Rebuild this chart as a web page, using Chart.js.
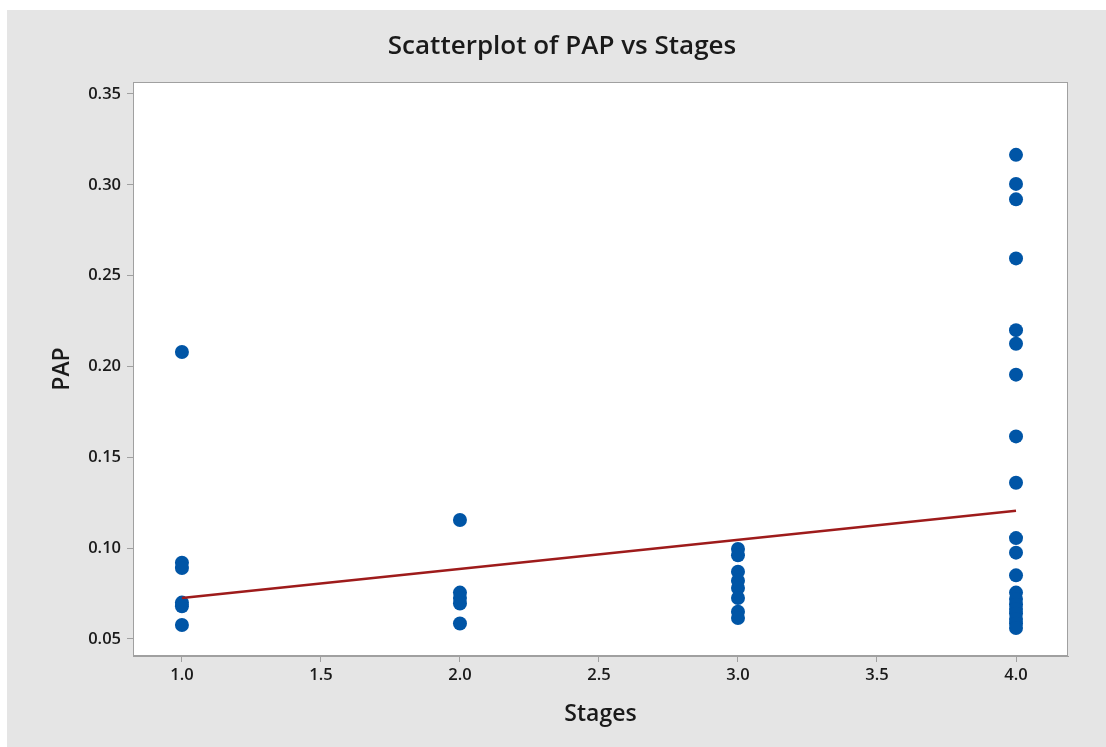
<!DOCTYPE html>
<html>
<head>
<meta charset="utf-8">
<script src="https://cdn.jsdelivr.net/npm/chart.js@4.4.0/dist/chart.umd.min.js"></script>
<style>
  html, body { margin: 0; padding: 0; background: #ffffff; }
  #wrap { position: absolute; left: 7px; top: 10px; width: 1099px; height: 737px; background: #e5e5e5; }
  canvas { display: block; }
</style>
</head>
<body>
<div id="wrap"><canvas id="scatterChart" width="1099" height="737"></canvas></div>
<script>
// PAP per stage
const stage1PAP = [0.208, 0.092, 0.089, 0.070, 0.068, 0.0577];
const stage2PAP = [0.1155, 0.0755, 0.0725, 0.0695, 0.0585];
const stage3PAP = [0.0995, 0.0960, 0.0870, 0.0820, 0.0780, 0.0725, 0.0650, 0.0615];
const stage4PAP = [0.3165, 0.3005, 0.2920, 0.2595, 0.2200, 0.2125, 0.1955, 0.1615, 0.1360,
                   0.1055, 0.0975, 0.0850, 0.0755, 0.0720, 0.0690, 0.0665, 0.0640, 0.0610,
                   0.0585, 0.0560];
const stages = [1, 2, 3, 4];

// garis regresi (ujung-ujung garis dari gambar)
const fitX = [1, 4];
const fitY = [0.0725, 0.1205];

const xTicks = [1.0, 1.5, 2.0, 2.5, 3.0, 3.5, 4.0];
const yTicks = [0.05, 0.10, 0.15, 0.20, 0.25, 0.30, 0.35];

const allStages = [stage1PAP, stage2PAP, stage3PAP, stage4PAP];
const scatterPoints = [];
allStages.forEach((vals, i) => {
  vals.forEach(v => scatterPoints.push({ x: stages[i], y: v }));
});
const fitPoints = fitX.map((x, i) => ({ x: x, y: fitY[i] }));

const fontFam = "'Open Sans', 'Noto Sans', sans-serif";
const axisGray = '#a0a0a0';
const textColor = '#1a1a1a';

// latar putih + bingkai area plot
const plotFrame = {
  id: 'plotFrame',
  beforeDraw(chart) {
    const { ctx, chartArea: a } = chart;
    ctx.save();
    ctx.fillStyle = '#ffffff';
    ctx.fillRect(a.left, a.top, a.right - a.left, a.bottom - a.top);
    ctx.restore();
  },
  afterDraw(chart) {
    const { ctx, chartArea: a } = chart;
    ctx.save();
    ctx.strokeStyle = axisGray;
    ctx.lineWidth = 1;
    ctx.strokeRect(a.left + 0.5, a.top + 0.5, a.right - a.left - 1, a.bottom - a.top - 1);
    ctx.restore();
  }
};

const ctx = document.getElementById('scatterChart').getContext('2d');
const chart = new Chart(ctx, {
  type: 'scatter',
  data: {
    datasets: [
      {
        label: 'Fit',
        type: 'line',
        data: fitPoints,
        borderColor: '#9e1b1b',
        borderWidth: 2.5,
        pointRadius: 0,
        fill: false,
        order: 0
      },
      {
        label: 'PAP',
        data: scatterPoints,
        backgroundColor: '#0055a6',
        borderColor: '#0055a6',
        borderWidth: 0,
        pointRadius: 7,
        order: 1
      }
    ]
  },
  options: {
    responsive: false,
    animation: false,
    layout: { padding: { left: 11, right: 0, top: 0, bottom: 0 } },
    plugins: {
      legend: { display: false },
      tooltip: { enabled: false },
      title: {
        display: true,
        text: 'Scatterplot of PAP vs Stages',
        color: textColor,
        font: { family: fontFam, size: 26, weight: '600' },
        padding: { top: 21, bottom: 19.8 }
      }
    },
    scales: {
      x: {
        type: 'linear',
        min: 0.824,
        max: 4.187,
        afterFit(scale) { scale.height = 91; },
        afterBuildTicks(scale) { scale.ticks = xTicks.map(v => ({ value: v })); },
        ticks: {
          color: textColor,
          font: { family: fontFam, size: 16.5, weight: '600' },
          padding: 3,
          callback: v => Number(v).toFixed(1)
        },
        grid: { drawOnChartArea: false, drawTicks: true, tickLength: 6, color: axisGray },
        border: { display: true, color: axisGray },
        title: {
          display: true,
          text: 'Stages',
          color: textColor,
          font: { family: fontFam, size: 23, weight: '600' },
          padding: { top: 0, bottom: 19 }
        }
      },
      y: {
        min: 0.0406,
        max: 0.3566,
        afterFit(scale) { scale.width = 115; },
        afterBuildTicks(scale) { scale.ticks = yTicks.map(v => ({ value: v })); },
        ticks: {
          color: textColor,
          font: { family: fontFam, size: 16.5, weight: '600' },
          padding: 6,
          callback: v => Number(v).toFixed(2)
        },
        grid: { drawOnChartArea: false, drawTicks: true, tickLength: 6, color: axisGray },
        border: { display: true, color: axisGray },
        title: {
          display: true,
          text: 'PAP',
          color: textColor,
          font: { family: fontFam, size: 23, weight: '600' },
          padding: { top: 31, bottom: 0 }
        }
      },
      // sumbu kosong di kanan untuk memberi ruang margin
      yRight: {
        position: 'right',
        display: true,
        afterFit(scale) { scale.width = 38; },
        ticks: { display: false },
        grid: { display: false },
        border: { display: false }
      }
    }
  },
  plugins: [plotFrame]
});
</script>
</body>
</html>
